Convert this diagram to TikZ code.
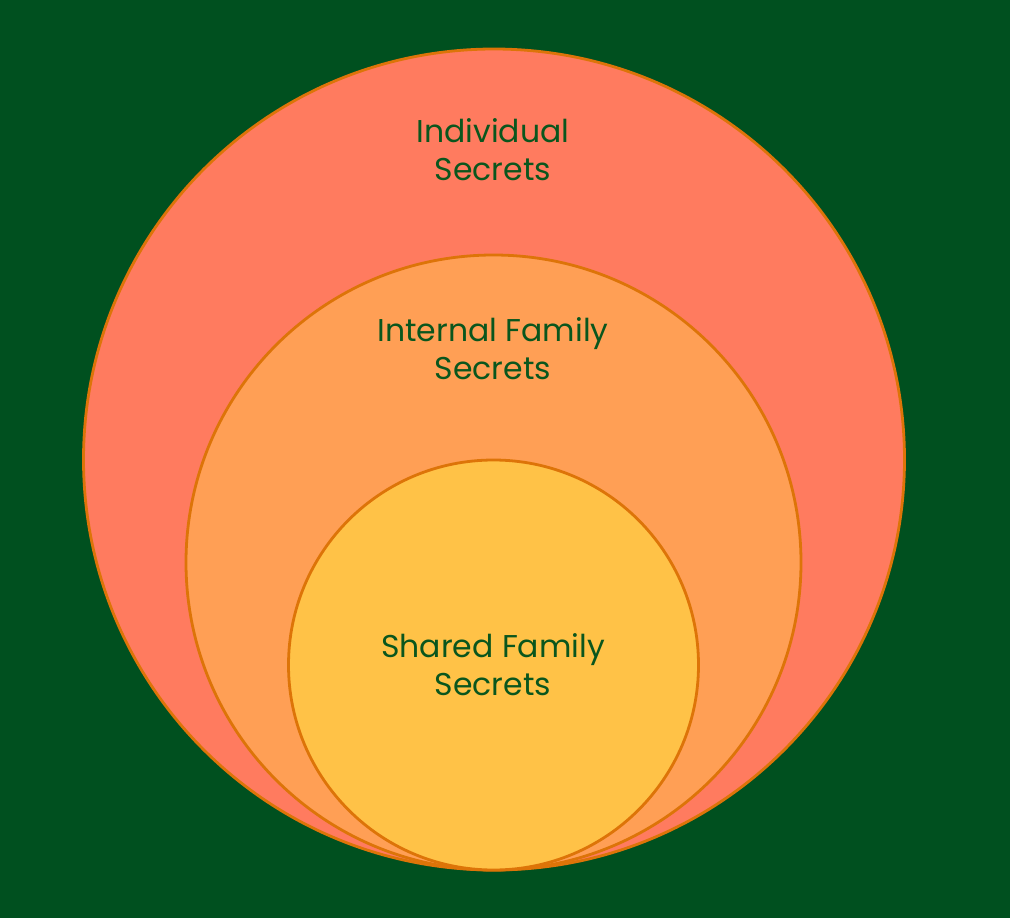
\documentclass[tikz,border=0pt]{standalone}
\usepackage{fontspec}
\setmainfont{Poppins}
\definecolor{bg}{HTML}{00501F}
\definecolor{outerc}{HTML}{FF7B5F}
\definecolor{midc}{HTML}{FF9F55}
\definecolor{innerc}{HTML}{FFC247}
\definecolor{edge}{HTML}{DD7408}
\definecolor{txt}{HTML}{0A561D}
\tikzset{
  ring/.style={draw=edge, line width=2.8pt},
  lbl/.style={text=txt, align=center, font=\fontsize{31.5}{38}\selectfont, inner sep=0pt}
}
\begin{document}
\begin{tikzpicture}[x=1pt,y=-1pt]
\fill[bg] (0,0) rectangle (1010,918);
\useasboundingbox (0,0) rectangle (1010,918);
\filldraw[ring, fill=outerc] (494,459.5) circle[radius=410.5];
\filldraw[ring, fill=midc] (493.5,562.5) circle[radius=307.5];
\filldraw[ring, fill=innerc] (493.5,665) circle[radius=205];
\node[lbl] (ind) at (493,150) {Individual\\Secrets};
\node[lbl] (int) at (493,349) {Internal Family\\Secrets};
\node[lbl] (sha) at (493,665) {Shared Family\\Secrets};
\end{tikzpicture}
\end{document}
